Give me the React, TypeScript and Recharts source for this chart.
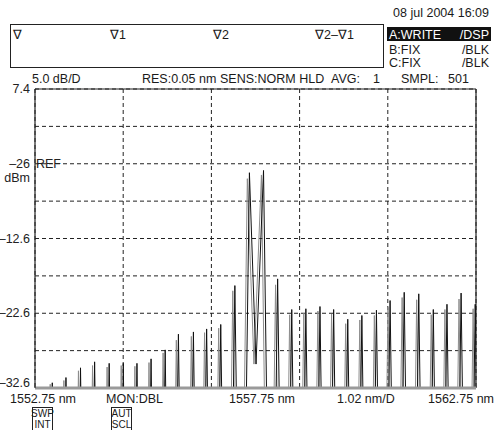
import React from 'react';
import { LineChart, Line, XAxis, YAxis, CartesianGrid, ReferenceLine } from 'recharts';

// Axis ticks (grid every division)
const xTicks = [1552.75, 1553.75, 1554.75, 1555.75, 1556.75, 1557.75, 1558.75, 1559.75, 1560.75, 1561.75, 1562.75];
const yTicks = [7.4, 2.4, -2.6, -7.6, -12.6, -17.6, -22.6, -27.6, -32.6];
const yTickLabels: Record<string, string> = {
  '7.4': '7.4',
  '-2.6': '–26',
  '-12.6': '–12.6',
  '-22.6': '–22.6',
  '-32.6': '–32.6',
};

// Comb lines (nm)
const peakNm = [
  1553.13, 1553.44, 1553.77, 1554.09, 1554.42, 1554.74, 1555.05, 1555.37, 1555.69, 1555.99,
  1556.33, 1556.63, 1556.95, 1557.27, 1557.6, 1557.92, 1558.24, 1558.56, 1558.88, 1559.2,
  1559.51, 1559.83, 1560.15, 1560.48, 1560.79, 1561.11, 1561.44, 1561.77, 1562.08, 1562.4, 1562.72,
];
// Trace A (WRITE, black) peak levels, dBm
const topA = [
  -31.9, -31.2, -29.9, -29.1, -29.3, -29.3, -29.3, -28.7, -27.5, -25.4,
  -25.1, -24.7, -24.1, -18.9, -3.8, -3.5, -18.0, -22.1, -22.0, -21.7,
  -22.1, -23.4, -22.9, -22.2, -20.9, -19.8, -20.0, -22.1, -21.4, -19.9, -21.4,
];
// Trace B (FIX, gray) peak levels, dBm
const topB = [
  -32.1, -31.6, -30.3, -29.6, -29.8, -29.6, -29.7, -29.2, -27.9, -26.2,
  -25.7, -25.2, -24.6, -19.6, -4.6, -4.1, -18.8, -22.8, -22.6, -22.3,
  -22.7, -24.0, -23.5, -22.9, -21.8, -20.5, -20.8, -22.8, -22.1, -20.7, -22.0,
];
const FLOOR = -32.6;
// Dip between the two main lines
const valleyAfterPeak = [14];
const valleyNm = [1557.75];
const valleyDb = [-29.4];

const FLANK_SLOPE = 260; // dB per nm on the line flanks (instrument resolution)

type Pt = { nm: number; db: number };
function buildTrace(tops: number[], shift: number): Pt[] {
  const pts: Pt[] = [{ nm: 1552.75, db: FLOOR }];
  let afterValley = false;
  peakNm.forEach((c0, i) => {
    const c = c0 + shift;
    const w = (tops[i] - FLOOR) / FLANK_SLOPE;
    if (!afterValley) pts.push({ nm: c - w * 0.6, db: FLOOR });
    pts.push({ nm: c, db: tops[i] });
    const v = valleyAfterPeak.indexOf(i);
    if (v >= 0) {
      pts.push({ nm: valleyNm[v] + shift, db: valleyDb[v] });
      afterValley = true;
    } else {
      pts.push({ nm: c + w * 0.6, db: FLOOR });
      afterValley = false;
    }
  });
  pts.push({ nm: 1562.75, db: FLOOR });
  return pts;
}

const traceA = buildTrace(topA, 0.012);
const traceB = buildTrace(topB, -0.035);

const FONT = '"Liberation Sans", Arial, Helvetica, sans-serif';

const YTick = (props: any) => {
  const { y, payload } = props;
  const key = String(Math.round(payload.value * 10) / 10);
  const label = yTickLabels[key];
  if (!label) return null;
  const dy = payload.value === -32.6 ? -5 : 0;
  return (
    <g>
      <text x={30} y={y + dy + 4} textAnchor="end" fontSize={12.5} fill="#222" fontFamily={FONT}>
        {label}
      </text>
      {payload.value === -2.6 && (
        <>
          <text x={30} y={y + 18} textAnchor="end" fontSize={12.5} fill="#222" fontFamily={FONT}>dBm</text>
          <text x={36} y={y + 4} textAnchor="start" fontSize={12.5} fill="#222" fontFamily={FONT}>REF</text>
        </>
      )}
    </g>
  );
};

export default function App() {
  const t = { fontFamily: FONT, fontSize: 12.5, fill: '#1a1a1a' } as const;
  const s = { fontFamily: FONT, fontSize: 10, fill: '#1a1a1a', textAnchor: 'middle' } as const;
  return (
    <div style={{ position: 'absolute', left: 0, top: 0, width: 496, height: 430, background: '#fff' }}>
      <LineChart
        width={496}
        height={430}
        margin={{ top: 89, right: 20, bottom: 42, left: 0 }}
      >
        <CartesianGrid stroke="#222" strokeDasharray="4 3" strokeWidth={1} />
        <XAxis
          dataKey="nm"
          type="number"
          domain={[1552.75, 1562.75]}
          ticks={xTicks}
          allowDataOverflow
          hide
        />
        <YAxis
          type="number"
          domain={[-32.6, 7.4]}
          ticks={yTicks}
          interval={0}
          width={35}
          axisLine={{ stroke: '#222', strokeWidth: 1.2 }}
          tickLine={false}
          tick={<YTick />}
          allowDataOverflow
        />
        <ReferenceLine y={7.4} stroke="#222" strokeWidth={1.2} />
        <ReferenceLine x={1562.75} stroke="#222" strokeWidth={1.2} />
        <Line
          data={traceB}
          dataKey="db"
          type="linear"
          stroke="#8c8c8c"
          strokeWidth={1}
          dot={false}
          activeDot={false}
          isAnimationActive={false}
        />
        <Line
          data={traceA}
          dataKey="db"
          type="linear"
          stroke="#111"
          strokeWidth={1}
          dot={false}
          activeDot={false}
          isAnimationActive={false}
        />
        <ReferenceLine y={-32.6} stroke="#9a9a9a" strokeWidth={3} />
      </LineChart>
      <svg
        width={496}
        height={430}
        style={{ position: 'absolute', left: 0, top: 0, pointerEvents: 'none' }}
      >
        <text x={489} y={17} textAnchor="end" {...t}>08 jul 2004 16:09</text>
        <rect x={10.5} y={24.5} width={373} height={43} fill="none" stroke="#222" strokeWidth={1} />
        <text x={13} y={39} {...t}>∇</text>
        <text x={110} y={39} {...t}>∇1</text>
        <text x={213} y={39} {...t}>∇2</text>
        <text x={315} y={39} {...t}>∇2–∇1</text>
        <rect x={387} y={27} width={104} height={14} fill="#111" />
        <text x={389} y={38.5} {...t} fill="#fff">A:WRITE</text>
        <text x={489} y={38.5} textAnchor="end" {...t} fill="#fff">/DSP</text>
        <text x={389} y={54} {...t}>B:FIX</text>
        <text x={489} y={54} textAnchor="end" {...t}>/BLK</text>
        <text x={389} y={67} {...t}>C:FIX</text>
        <text x={489} y={67} textAnchor="end" {...t}>/BLK</text>
        <text x={32} y={83} {...t}>5.0 dB/D</text>
        <text x={142} y={83} {...t}>RES:0.05 nm</text>
        <text x={220} y={83} {...t}>SENS:NORM HLD</text>
        <text x={331} y={83} {...t}>AVG:</text>
        <text x={373} y={83} {...t}>1</text>
        <text x={401} y={83} {...t}>SMPL:</text>
        <text x={448} y={83} {...t}>501</text>
        <text x={10} y={403} {...t}>1552.75 nm</text>
        <text x={106} y={403} {...t}>MON:DBL</text>
        <text x={229} y={403} {...t}>1557.75 nm</text>
        <text x={337} y={403} {...t}>1.02 nm/D</text>
        <text x={428} y={403} {...t}>1562.75 nm</text>
        <rect x={32.5} y={407.5} width={20} height={25} fill="none" stroke="#222" strokeWidth={1} />
        <text x={42.5} y={417} {...s}>SWP</text>
        <text x={42.5} y={428} {...s}>INT</text>
        <rect x={111.5} y={407.5} width={20} height={25} fill="none" stroke="#222" strokeWidth={1} />
        <text x={121.5} y={417} {...s}>AUT</text>
        <text x={121.5} y={428} {...s}>SCL</text>
      </svg>
    </div>
  );
}
